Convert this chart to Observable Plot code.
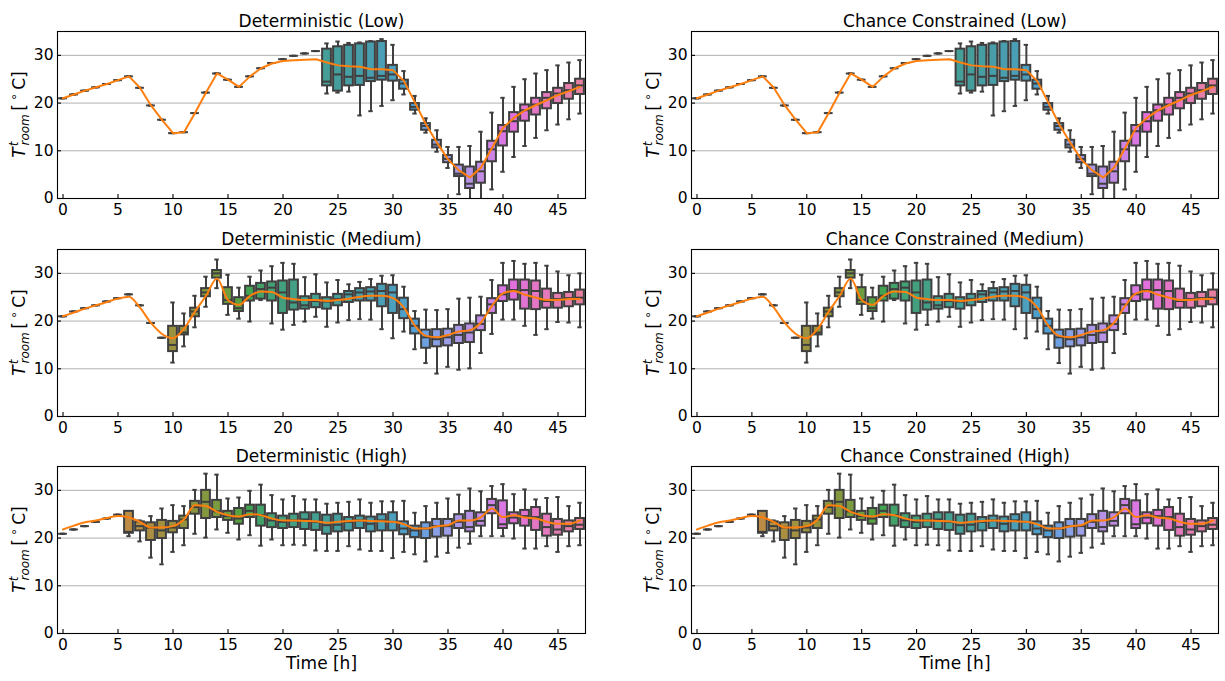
<!DOCTYPE html>
<html><head><meta charset="utf-8">
<script src="https://cdn.jsdelivr.net/npm/d3@7"></script>
<script src="https://cdn.jsdelivr.net/npm/@observablehq/plot@0.6"></script>
<style>
body{margin:0;background:#fff;}
#root{position:relative;width:1225px;height:681px;overflow:hidden;background:#fff;}
#root > div{position:absolute;}
svg{overflow:visible;}
</style></head><body><div id="root"></div>
<script>
// ---------- data ----------
const hours = d3.range(48);
const xTicks = [0,5,10,15,20,25,30,35,40,45];
const yTicks = [0,10,20,30];
const methods = ["Deterministic","Chance Constrained"];
const levels = ["Low","Medium","High"];

// Low uncertainty
const lowLo  = [21.0,21.8,22.6,23.3,24.0,24.8,25.6,23.2,19.5,16.5,13.7,13.9,17.9,22.2,26.2,24.9,23.4,25.6,27.3,28.4,29.2,29.9,30.4,30.9,22.0,22.2,22.4,17.4,18.3,19.4,20.6,21.8,17.8,13.8,9.8,6.4,0.9,-1.0,-1.0,1.9,5.6,8.7,11.0,12.7,14.3,15.5,16.6,17.8];
const lowQ1  = [21.0,21.8,22.6,23.3,24.0,24.8,25.6,23.2,19.5,16.5,13.7,13.9,17.9,22.2,26.2,24.9,23.4,25.6,27.3,28.4,29.2,29.9,30.4,30.9,23.6,22.5,23.6,23.7,24.5,24.8,24.6,22.9,18.5,14.3,10.6,7.5,4.6,2.1,3.2,7.7,11.0,13.9,16.2,17.5,18.8,19.9,20.8,21.8];
const lowMed = [21.0,21.8,22.6,23.3,24.0,24.8,25.6,23.2,19.5,16.5,13.7,13.9,17.9,22.2,26.2,24.9,23.4,25.6,27.3,28.4,29.2,29.9,30.4,30.9,24.5,26.0,25.5,25.7,25.3,25.7,26.0,24.1,19.2,15.2,11.3,8.3,5.2,3.1,5.7,10.3,14.1,16.2,18.5,19.7,21.1,22.0,22.7,23.7];
const lowQ3  = [21.0,21.8,22.6,23.3,24.0,24.8,25.6,23.2,19.5,16.5,13.7,13.9,17.9,22.2,26.2,24.9,23.4,25.6,27.3,28.4,29.2,29.9,30.4,30.9,31.3,31.8,32.1,32.4,32.8,32.9,27.9,24.8,19.9,15.7,12.2,9.0,7.0,6.6,7.6,12.0,15.3,18.0,19.6,21.0,22.2,23.1,24.1,25.0];
const lowHi  = [21.0,21.8,22.6,23.3,24.0,24.8,25.6,23.2,19.5,16.5,13.7,13.9,17.9,22.2,26.2,24.9,23.4,25.6,27.3,28.4,29.2,29.9,30.4,30.9,32.5,32.9,32.6,32.7,33.0,33.4,32.2,26.7,21.5,16.8,14.3,10.8,10.8,11.0,14.0,18.0,21.1,23.4,25.0,26.2,26.9,27.9,28.5,29.0];
const lowMean= [21.0,21.8,22.6,23.3,24.0,24.8,25.6,23.2,19.5,16.5,13.7,13.9,17.9,22.2,26.2,24.9,23.4,25.6,27.3,28.3,28.8,29.0,29.1,29.2,28.5,27.9,27.7,27.6,27.1,27.1,26.9,24.6,20.1,15.5,11.7,8.2,5.9,4.4,6.5,10.6,14.8,16.9,18.5,19.6,20.6,21.7,22.5,23.4];

// Medium uncertainty
const medLo  = [21.0,22.0,22.7,23.3,24.1,24.8,25.6,23.3,19.6,16.5,11.3,14.7,18.7,23.0,26.9,21.3,20.5,19.9,24.4,19.5,18.2,19.2,19.9,20.9,18.8,19.7,20.2,20.4,20.3,18.3,16.4,17.8,14.1,11.2,9.0,10.4,9.8,10.1,13.3,17.3,20.3,20.3,19.0,17.1,18.3,19.8,19.7,18.7];
const medQ1  = [21.0,22.0,22.7,23.3,24.1,24.8,25.6,23.3,19.6,16.5,13.6,17.1,20.9,25.1,29.0,23.5,22.0,24.2,24.6,24.2,21.6,22.3,22.5,22.8,22.5,23.2,23.9,24.2,24.2,23.0,21.6,20.5,17.3,14.3,14.6,14.8,15.3,15.5,18.0,21.6,24.1,24.4,22.5,22.4,22.7,22.7,23.0,23.4];
const medMed = [21.0,22.0,22.7,23.3,24.1,24.8,25.6,23.3,19.6,16.5,15.0,17.6,22.0,26.0,30.0,24.4,22.7,25.3,26.7,27.0,26.0,23.9,23.3,24.2,24.1,24.6,25.6,26.0,26.2,26.3,26.0,22.5,19.0,16.6,16.2,16.6,17.1,17.6,19.4,23.5,25.6,26.5,26.5,26.3,24.2,24.6,24.8,24.9];
const medQ3  = [21.0,22.0,22.7,23.3,24.1,24.8,25.6,23.3,19.6,16.5,18.9,18.9,22.7,26.8,30.6,27.0,24.9,27.3,27.9,28.2,28.4,28.6,25.1,25.6,24.9,25.6,26.2,26.8,27.0,27.7,27.5,24.8,20.4,18.1,18.2,18.3,19.1,19.4,21.1,24.7,27.4,28.6,28.6,28.4,26.7,25.8,26.0,26.5];
const medHi  = [21.0,22.0,22.7,23.3,24.1,24.8,25.6,23.3,19.6,16.5,23.9,21.6,25.3,29.3,32.9,29.7,27.0,29.3,30.6,31.5,32.2,32.0,29.2,29.8,28.1,28.6,27.7,28.2,28.8,29.5,29.6,27.2,22.1,22.4,22.3,22.5,24.7,24.9,25.1,28.6,32.2,32.6,32.0,32.2,31.6,30.4,29.6,30.0];
const medMean= [21.0,21.8,22.6,23.3,24.0,24.7,25.1,22.8,19.6,17.3,16.4,18.4,22.0,25.3,28.9,24.4,23.4,25.3,26.2,26.1,24.9,24.6,24.4,24.4,24.2,24.4,24.7,25.1,25.3,25.3,24.8,22.8,19.0,16.9,16.6,17.1,17.8,18.1,19.7,23.2,25.8,26.3,25.5,24.9,24.4,24.4,24.6,24.6];

// High uncertainty
const highLo  = [20.9,21.8,22.5,23.4,24.1,24.9,20.4,19.3,15.9,14.5,17.1,18.5,20.9,20.1,21.8,21.1,19.7,20.6,18.4,19.7,18.5,18.6,18.5,17.4,17.3,17.3,18.3,17.6,17.3,17.3,15.8,17.1,16.6,15.1,16.1,16.9,18.0,18.8,20.4,20.4,20.4,19.9,17.8,17.8,18.3,17.1,18.3,18.5];
const highQ1  = [20.9,21.8,22.5,23.4,24.1,24.9,21.0,21.5,19.5,19.9,21.1,22.0,25.0,24.1,24.3,23.7,22.9,24.3,22.5,22.2,22.0,22.2,21.8,21.6,20.8,21.3,21.5,22.0,21.3,21.5,21.5,20.7,20.1,19.9,20.2,20.4,22.0,21.3,22.5,25.1,22.0,23.0,22.5,21.6,20.4,20.6,21.3,21.8];
const highMed = [20.9,21.8,22.5,23.4,24.1,24.9,21.3,22.5,22.2,21.6,22.2,23.9,26.5,27.6,25.6,24.6,24.1,25.7,24.8,23.7,23.4,23.7,23.9,23.4,22.7,22.8,23.4,23.7,23.0,23.7,23.4,22.0,21.6,22.0,22.5,22.5,23.4,22.3,23.6,26.9,22.9,24.3,24.6,24.4,22.3,21.8,22.5,22.8];
const highQ3  = [20.9,21.8,22.5,23.4,24.1,24.9,25.6,23.4,23.2,23.7,23.5,24.6,27.7,30.0,27.9,25.6,26.2,26.9,26.9,25.1,24.6,25.0,25.3,25.3,24.8,25.0,24.3,24.6,24.4,24.9,25.3,23.4,22.5,23.2,23.9,23.9,24.9,25.6,25.3,28.1,27.8,25.3,25.8,26.4,25.0,23.9,23.6,24.1];
const highHi  = [20.9,21.8,22.5,23.4,24.1,24.9,25.6,23.7,24.6,26.2,26.9,26.7,30.1,33.5,33.3,28.3,28.5,29.9,31.2,29.0,28.1,28.8,28.1,28.1,27.2,27.4,27.6,28.1,27.4,27.7,27.7,27.8,25.3,26.7,27.4,28.3,29.1,30.4,29.8,30.9,31.3,29.2,30.2,28.1,28.4,28.6,26.7,27.4];
const highMean= [21.8,22.6,23.3,23.7,24.2,24.6,24.3,23.4,22.2,22.2,22.5,23.9,26.9,26.7,25.5,24.8,24.5,25.0,24.8,24.1,23.7,23.7,23.6,23.5,23.2,23.4,23.6,23.7,23.6,23.5,23.4,22.9,22.0,22.0,22.5,22.7,23.7,23.7,24.4,26.2,24.4,24.8,24.3,24.1,23.4,23.0,23.0,23.7];

// ---------- seaborn-like husl palette (48 colours, desaturated 0.75) ----------
const M = [[3.2406,-1.5372,-0.4986],[-0.9689,1.8758,0.0415],[0.0557,-0.2040,1.0570]];
const refU = 0.19784, refV = 0.46834, labE = 0.008856, labK = 903.3;
function maxChroma(L, H){
  const hr = H*Math.PI/180, sinH = Math.sin(hr), cosH = Math.cos(hr);
  const sub1 = Math.pow(L+16,3)/1560896, sub2 = sub1 > labE ? sub1 : L/labK;
  let res = Infinity;
  for (const [m1,m2,m3] of M){
    const top = (0.99915*m1 + 1.05122*m2 + 1.14460*m3)*sub2;
    const rb = 0.86330*m3 - 0.17266*m2, lb = 0.12949*m3 - 0.38848*m1;
    const bottom = (rb*sinH + lb*cosH)*sub2;
    for (const t of [0,1]){
      const C = L*(top - 1.05122*t)/(bottom + 0.17266*sinH*t);
      if (C > 0 && C < res) res = C;
    }
  }
  return res;
}
function huslToRgb(H,S,L){
  const C = maxChroma(L,H)/100*S;
  const hr = H*Math.PI/180, U = Math.cos(hr)*C, V = Math.sin(hr)*C;
  const Y = L > 8 ? Math.pow((L+16)/116,3) : L/labK;
  const vu = U/(13*L)+refU, vv = V/(13*L)+refV;
  const X = -(9*Y*vu)/((vu-4)*vv - vu*vv);
  const Z = (9*Y - 15*vv*Y - vv*X)/(3*vv);
  const f = c => c <= 0.0031308 ? 12.92*c : 1.055*Math.pow(c,1/2.4)-0.055;
  return M.map(([a,b,c]) => Math.min(1, Math.max(0, f(a*X+b*Y+c*Z))));
}
const boxColors = hours.map(i => {
  const h = ((i/48 + 0.01) % 1) * 359;
  const [r,g,b] = huslToRgb(h, 89.1, 64.35);
  const c = d3.hsl(d3.rgb(r*255,g*255,b*255));
  c.s *= 0.75;
  return c;
});
const lum = d3.min(boxColors, c => c.l) * 0.6;
const edgeGray = d3.rgb(lum*255, lum*255, lum*255).formatHex();
const boxFill = boxColors.map(c => c.formatHex());

const series = {
  Low:    {lo: lowLo,  q1: lowQ1,  med: lowMed,  q3: lowQ3,  hi: lowHi,  mean: lowMean,  curve: "linear"},
  Medium: {lo: medLo,  q1: medQ1,  med: medMed,  q3: medQ3,  hi: medHi,  mean: medMean,  curve: "monotone-x"},
  High:   {lo: highLo, q1: highQ1, med: highMed, q3: highQ3, hi: highHi, mean: highMean, curve: "monotone-x"}
};

// ---------- layout ----------
const rowTops = [0, 217.5, 435];
const colLefts = [0, 634];
const colWidths = [600, 591];
const colMarginRight = [15, 7];
const FONT = "DejaVu Sans";

function panel(method, level, r, c){
  const s = series[level];
  const rows = hours.map((h,i) => ({h, lo: s.lo[i], q1: s.q1[i], med: s.med[i], q3: s.q3[i], hi: s.hi[i], mean: s.mean[i], fill: boxFill[i]}));
  const bottomRow = r === 2;
  const H = bottomRow ? 250 : 230;
  const marks = [
    Plot.gridY(yTicks, {stroke: "#b0b0b0", strokeOpacity: 1, strokeWidth: 1}),
    Plot.ruleX(rows, {x: "h", y1: "lo", y2: "q1", stroke: edgeGray, strokeWidth: 2, clip: true}),
    Plot.ruleX(rows, {x: "h", y1: "q3", y2: "hi", stroke: edgeGray, strokeWidth: 2, clip: true}),
    Plot.ruleY(rows, {y: "lo", x1: d => d.h - 0.2, x2: d => d.h + 0.2, stroke: edgeGray, strokeWidth: 2, clip: true}),
    Plot.ruleY(rows, {y: "hi", x1: d => d.h - 0.2, x2: d => d.h + 0.2, stroke: edgeGray, strokeWidth: 2, clip: true}),
    Plot.rect(rows, {x1: d => d.h - 0.4, x2: d => d.h + 0.4, y1: "q1", y2: "q3", fill: "fill", stroke: edgeGray, strokeWidth: 2}),
    Plot.ruleY(rows, {y: "med", x1: d => d.h - 0.4, x2: d => d.h + 0.4, stroke: edgeGray, strokeWidth: 2}),
    Plot.line(rows, {x: "h", y: "mean", stroke: "#ff7f0e", strokeWidth: 2, curve: s.curve}),
    Plot.frame({stroke: "black", strokeWidth: 1.1}),
    Plot.axisX(xTicks, {tickSize: -4, tickPadding: 9, fontSize: 15.5, label: null, stroke: "black", strokeWidth: 1.1}),
    Plot.axisY(yTicks, {tickSize: -4, tickPadding: 8, fontSize: 15.5, label: null, stroke: "black", strokeWidth: 1.1}),
    Plot.text([`${method} (${level})`], {text: d => d, frameAnchor: "top", lineAnchor: "bottom", dy: -5, fontSize: 17, fill: "black"})
  ];
  if (bottomRow) marks.push(Plot.text(["Time [h]"], {text: d => d, frameAnchor: "bottom", lineAnchor: "top", dy: 23, fontSize: 17, fill: "black"}));
  const svg = Plot.plot({
    width: colWidths[c], height: H,
    marginTop: 31, marginBottom: H - 198, marginLeft: 57, marginRight: colMarginRight[c],
    x: {domain: [-0.5, 47.5]},
    y: {domain: [0, 35]},
    style: {fontFamily: FONT, fontSize: "15.5px", background: "transparent", overflow: "visible", color: "black"},
    marks
  });
  // y label: T^t_room [°C]
  const sel = d3.select(svg);
  const cy = (31 + 198) / 2;
  const t = sel.append("text")
    .attr("transform", `translate(25,${cy}) rotate(-90)`)
    .attr("text-anchor", "middle").attr("font-family", FONT).attr("font-size", 17).attr("fill", "black");
  t.append("tspan").attr("font-style", "italic").text("T");
  t.append("tspan").attr("font-style", "italic").attr("font-size", 12).attr("dy", -7).attr("dx", 1).text("t");
  t.append("tspan").attr("font-style", "italic").attr("font-size", 12).attr("dy", 11).attr("dx", -4).text("room");
  t.append("tspan").attr("dy", -4).text("\u2009[\u2009");
  t.append("tspan").attr("font-size", 12).attr("dy", -7).text("\u2218");
  t.append("tspan").attr("dy", 7).text("\u2009C]");
  const holder = document.createElement("div");
  holder.style.left = colLefts[c] + "px";
  holder.style.top = rowTops[r] + "px";
  holder.appendChild(svg);
  document.getElementById("root").appendChild(holder);
}
levels.forEach((lv, r) => methods.forEach((m, c) => panel(m, lv, r, c)));
</script></body></html>
